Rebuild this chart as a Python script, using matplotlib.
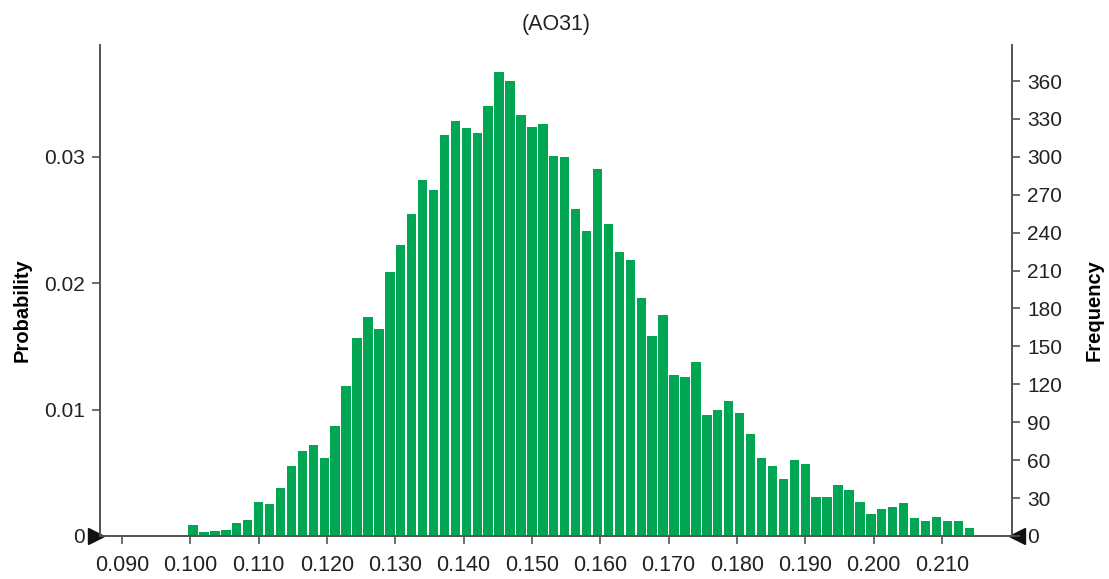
import numpy as np
import matplotlib
matplotlib.use("Agg")
import matplotlib.pyplot as plt
from matplotlib.transforms import offset_copy

plt.rcParams['font.family'] = ['Liberation Sans', 'DejaVu Sans']

# ---- data ----
title = "(AO31)"
bin_start = 0.0901
bin_width = 0.0016
frequency = [1, 0, 1, 1, 1, 1, 9, 3, 4, 5, 10, 13, 27, 25, 38, 55, 67, 72, 62, 87,
             119, 157, 173, 164, 209, 230, 255, 282, 274, 317, 328, 323, 319, 340,
             367, 360, 333, 324, 326, 301, 300, 259, 241, 290, 247, 225, 218, 188,
             158, 175, 127, 126, 138, 96, 100, 107, 97, 81, 62, 55, 45, 60, 57, 31,
             31, 40, 36, 27, 17, 21, 23, 26, 14, 12, 15, 12, 12, 6]
trials = 10000
x_ticks = [0.090, 0.100, 0.110, 0.120, 0.130, 0.140, 0.150, 0.160, 0.170,
           0.180, 0.190, 0.200, 0.210]
prob_ticks = [0, 0.01, 0.02, 0.03]
prob_labels = ["0", "0.01", "0.02", "0.03"]
freq_ticks = [0, 30, 60, 90, 120, 150, 180, 210, 240, 270, 300, 330, 360]

bin_left = bin_start + bin_width * np.arange(len(frequency))

# ---- figure ----
fig = plt.figure(figsize=(11.09, 5.79), dpi=100)
ax = fig.add_axes([0.0902, 0.0743, 0.8223, 0.848])
ax2 = ax.twinx()

green = '#00a651'
spine_c = '#555555'
fs = 15

ax2.bar(bin_left, frequency, width=bin_width * 0.86, align='edge',
        color=green, edgecolor='none', zorder=2)

ax.set_xlim(0.08678, 0.22024)
ymax_f = 388.5
ax2.set_ylim(0, ymax_f)
ax.set_ylim(0, ymax_f / trials)

ax.set_xticks(x_ticks)
ax.set_xticklabels([f"{t:.3f}" for t in x_ticks], fontsize=15.5, color='#222222')
ax.set_yticks(prob_ticks)
ax.set_yticklabels(prob_labels, fontsize=fs, color='#222222')
ax2.set_yticks(freq_ticks)
ax2.set_yticklabels([str(t) for t in freq_ticks], fontsize=fs, color='#222222')

for a in (ax, ax2):
    a.spines['top'].set_visible(False)
    for s in ('left', 'right', 'bottom'):
        a.spines[s].set_color(spine_c)
        a.spines[s].set_linewidth(1.3)
    a.tick_params(direction='out', length=6, width=1.2, color=spine_c, pad=5)
ax.tick_params(axis='x', pad=8)

ax.set_ylabel("Probability", fontsize=14.5, fontweight='bold')
ax2.set_ylabel("Frequency", fontsize=14.5, fontweight='bold')
ax.yaxis.set_label_coords(-0.075, 0.46)
ax2.yaxis.set_label_coords(1.080, 0.46)
ax.set_title(title, fontsize=15.5, pad=11, color='#222222')

# certainty grabbers
tl = offset_copy(ax.transAxes, fig=fig, x=-4.5, y=0, units='dots')
ax.plot([0], [0], marker='>', ms=11, color='#111111', transform=tl,
        clip_on=False, zorder=5)
tr = offset_copy(ax.transAxes, fig=fig, x=5, y=0, units='dots')
ax.plot([1], [0], marker='<', ms=11, color='#111111', transform=tr,
        clip_on=False, zorder=5)

fig.savefig("out.png", dpi=100)
